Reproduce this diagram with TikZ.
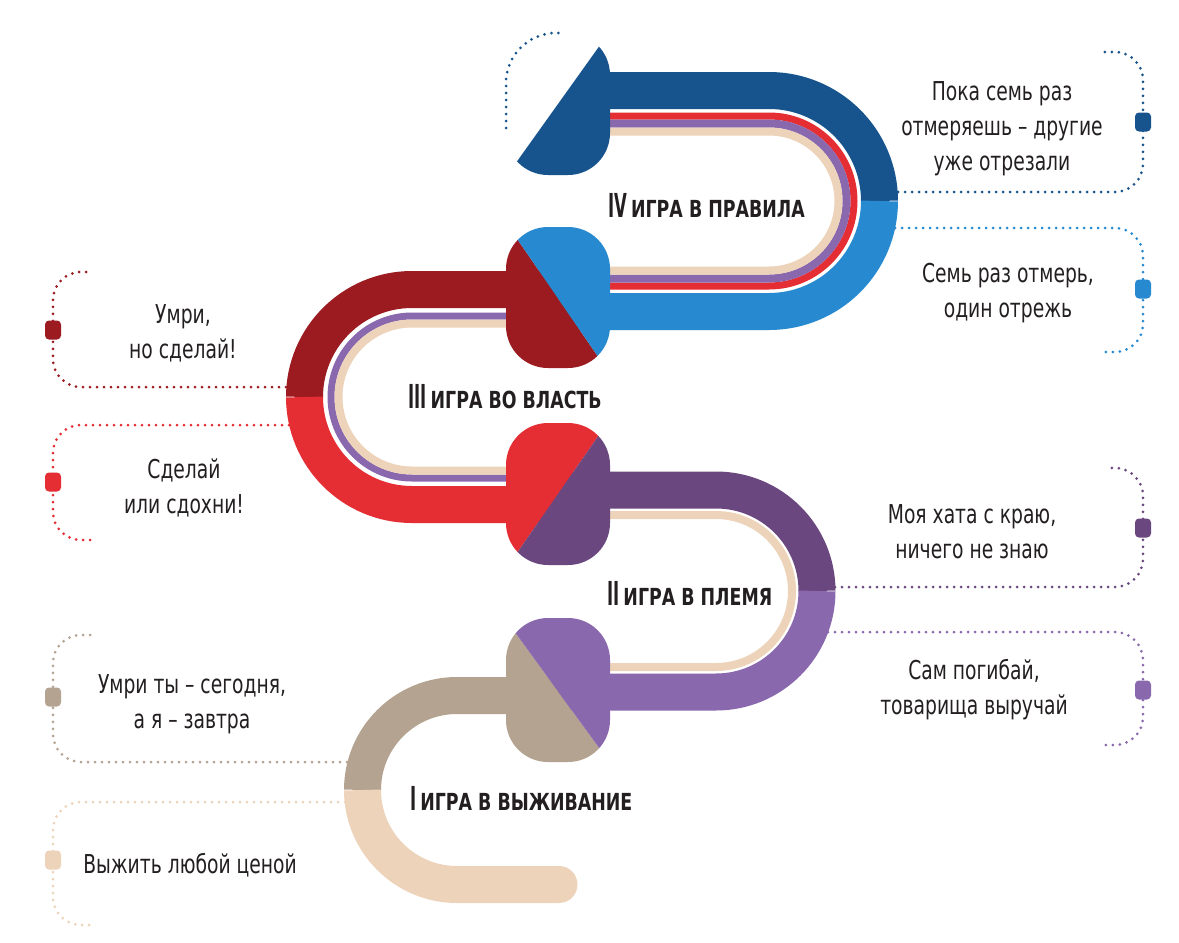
\documentclass[tikz,border=0pt]{standalone}
\usepackage{fontspec}
\setmainfont{DejaVu Sans}
\newfontfamily\annfont[FakeStretch=0.72]{DejaVu Sans}
\newfontfamily\titfont[FakeStretch=0.74]{DejaVu Sans}
\newfontfamily\numfont[FakeStretch=0.5]{DejaVu Sans}
\definecolor{dblue}{HTML}{17538C}
\definecolor{lblue}{HTML}{2789CF}
\definecolor{dred}{HTML}{9B1B21}
\definecolor{mred}{HTML}{E52E34}
\definecolor{dpurp}{HTML}{6A477E}
\definecolor{lpurp}{HTML}{8A68AD}
\definecolor{tanc}{HTML}{B5A391}
\definecolor{beigec}{HTML}{EDD3BA}
\definecolor{txt}{HTML}{231F20}
\begin{document}
\begin{tikzpicture}[x=1pt,y=-1pt,
  band/.style={line width=37pt, line cap=butt},
  stripe/.style={line width=#1, line cap=butt},
  dotline/.style={line width=3pt, line cap=round, dash pattern=on 0pt off 7pt, rounded corners=28pt},
  marker/.style={rectangle, rounded corners=4pt, minimum width=16pt, minimum height=19pt, inner sep=0pt},
  ann/.style={align=center, anchor=base, inner sep=0pt, text=txt, font={\annfont\fontsize{26}{35}\selectfont}},
  tit/.style={anchor=base west, inner sep=0pt, text=txt, font={\titfont\bfseries\fontsize{23.5}{23.5}\selectfont}}]
\fill[white] (0,0) rectangle (1179,943);
\useasboundingbox (0,0) rectangle (1179,943);

% ---- segment I
\draw[band, tanc] (558,695.5) -- (457,695.5) arc[start angle=-90, end angle=-180, radius=94.5];
\draw[band, beigec] (362.5,790) arc[start angle=180, end angle=90, radius=94.5] -- (559,884.5);
\fill[beigec] (559,884.5) circle[radius=18.5];

% ---- segment II
\draw[band, dpurp] (558,490) -- (716,490) arc[start angle=-90, end angle=0, radius=101];
\draw[band, lpurp] (817,591) arc[start angle=0, end angle=90, radius=101] -- (558,692);
\draw[stripe=8pt, beigec] (558,515) -- (716,515) arc[start angle=-90, end angle=90, radius=76] -- (558,667);

% ---- segment III
\draw[band, dred] (558,289.5) -- (412,289.5) arc[start angle=-90, end angle=-180, radius=107.5];
\draw[band, mred] (304.5,397) arc[start angle=180, end angle=90, radius=107.5] -- (558,504.5);
\draw[stripe=7pt, lpurp] (558,316) -- (412,316) arc[start angle=-90, end angle=-270, radius=81] -- (558,478);
\draw[stripe=8pt, beigec] (558,323.5) -- (412,323.5) arc[start angle=-90, end angle=-270, radius=73.5] -- (558,470.5);

% ---- segment IV
\draw[band, dblue] (600,90.5) -- (769,90.5) arc[start angle=-90, end angle=0, radius=110.5];
\draw[band, lblue] (879.5,201) arc[start angle=0, end angle=90, radius=110.5] -- (558,311.5);
\draw[stripe=7pt, mred] (600,116) -- (769,116) arc[start angle=-90, end angle=90, radius=85] -- (558,286);
\draw[stripe=8pt, lpurp] (600,123.5) -- (769,123.5) arc[start angle=-90, end angle=90, radius=77.5] -- (558,278.5);
\draw[stripe=8pt, beigec] (600,131.5) -- (769,131.5) arc[start angle=-90, end angle=90, radius=69.5] -- (558,270.5);

% ---- joints
\begin{scope}
\clip[rounded corners=42pt] (506,618) rectangle (610,762);
\fill[tanc] (397,470) -- (717,910) -- (397,910) -- cycle;
\fill[lpurp] (397,470) -- (717,910) -- (717,470) -- cycle;
\end{scope}
\begin{scope}
\clip[rounded corners=42pt] (506,423) rectangle (610,565);
\fill[mred] (718,264) -- (398,724) -- (398,264) -- cycle;
\fill[dpurp] (718,264) -- (398,724) -- (718,724) -- cycle;
\end{scope}
\begin{scope}
\clip[rounded corners=42pt] (506,227) rectangle (610,368);
\fill[dred] (403,73) -- (711,521) -- (403,521) -- cycle;
\fill[lblue] (403,73) -- (711,521) -- (711,73) -- cycle;
\end{scope}
\begin{scope}
\clip[rounded corners=42pt] (506,33) rectangle (610,175);
\fill[dblue] (718,-120) -- (398,328) -- (718,328) -- cycle;
\end{scope}

% ---- titles
\node[tit] (t4) at (608,217) {{\numfont\fontsize{33}{33}\selectfont IV}\hspace{4pt}ИГРА В ПРАВИЛА};
\node[tit] (t3) at (408,408) {{\numfont\fontsize{33}{33}\selectfont III}\hspace{4pt}ИГРА ВО ВЛАСТЬ};
\node[tit] (t2) at (607,605) {{\numfont\fontsize{33}{33}\selectfont II}\hspace{4pt}ИГРА В ПЛЕМЯ};
\node[tit] (t1) at (410,810) {{\numfont\fontsize{33}{33}\selectfont I}\hspace{4pt}ИГРА В ВЫЖИВАНИЕ};

% ---- dotted brackets
\draw[dotline, dblue] (898,192) -- (1143,192) -- (1143,52) -- (1103,52);
\draw[dotline, lblue] (895,228) -- (1143,228) -- (1143,352) -- (1103,352);
\draw[dotline, dred] (286,387) -- (53,387) -- (53,272) -- (93,272);
\draw[dotline, mred] (289,425) -- (53,425) -- (53,540) -- (93,540);
\draw[dotline, dpurp] (835,587) -- (1143,587) -- (1143,468) -- (1105,468);
\draw[dotline, lpurp] (828,632) -- (1143,632) -- (1143,745) -- (1105,745);
\draw[dotline, tanc] (347,762) -- (53,762) -- (53,635) -- (93,635);
\draw[dotline, beigec] (345,802) -- (53,802) -- (53,925) -- (93,925);
\draw[dotline, dblue, rounded corners=50pt] (506,128) -- (506,33) -- (562,33);

% ---- markers
\node[marker, fill=dblue] (m1) at (1143,122) {};
\node[marker, fill=lblue] (m2) at (1143,289) {};
\node[marker, fill=dred] (m3) at (53,330) {};
\node[marker, fill=mred] (m4) at (53,482) {};
\node[marker, fill=dpurp] (m5) at (1143,528) {};
\node[marker, fill=lpurp] (m6) at (1143,690) {};
\node[marker, fill=tanc] (m7) at (53,697) {};
\node[marker, fill=beigec] (m8) at (53,860) {};

% ---- sayings (anchor = baseline of the last line)
\node[ann] (s1) at (1002,170) {Пока семь раз\\отмеряешь – другие\\уже отрезали};
\node[ann] (s2) at (1008,317) {Семь раз отмерь,\\один отрежь};
\node[ann] (s3) at (183,358) {Умри,\\но сделай!};
\node[ann] (s4) at (184,513) {Сделай\\или сдохни!};
\node[ann] (s5) at (972,558) {Моя хата с краю,\\ничего не знаю};
\node[ann] (s6) at (974,714) {Сам погибай,\\товарища выручай};
\node[ann] (s7) at (192,728) {Умри ты – сегодня,\\а я – завтра};
\node[ann] (s8) at (190,873) {Выжить любой ценой};
\end{tikzpicture}
\end{document}
